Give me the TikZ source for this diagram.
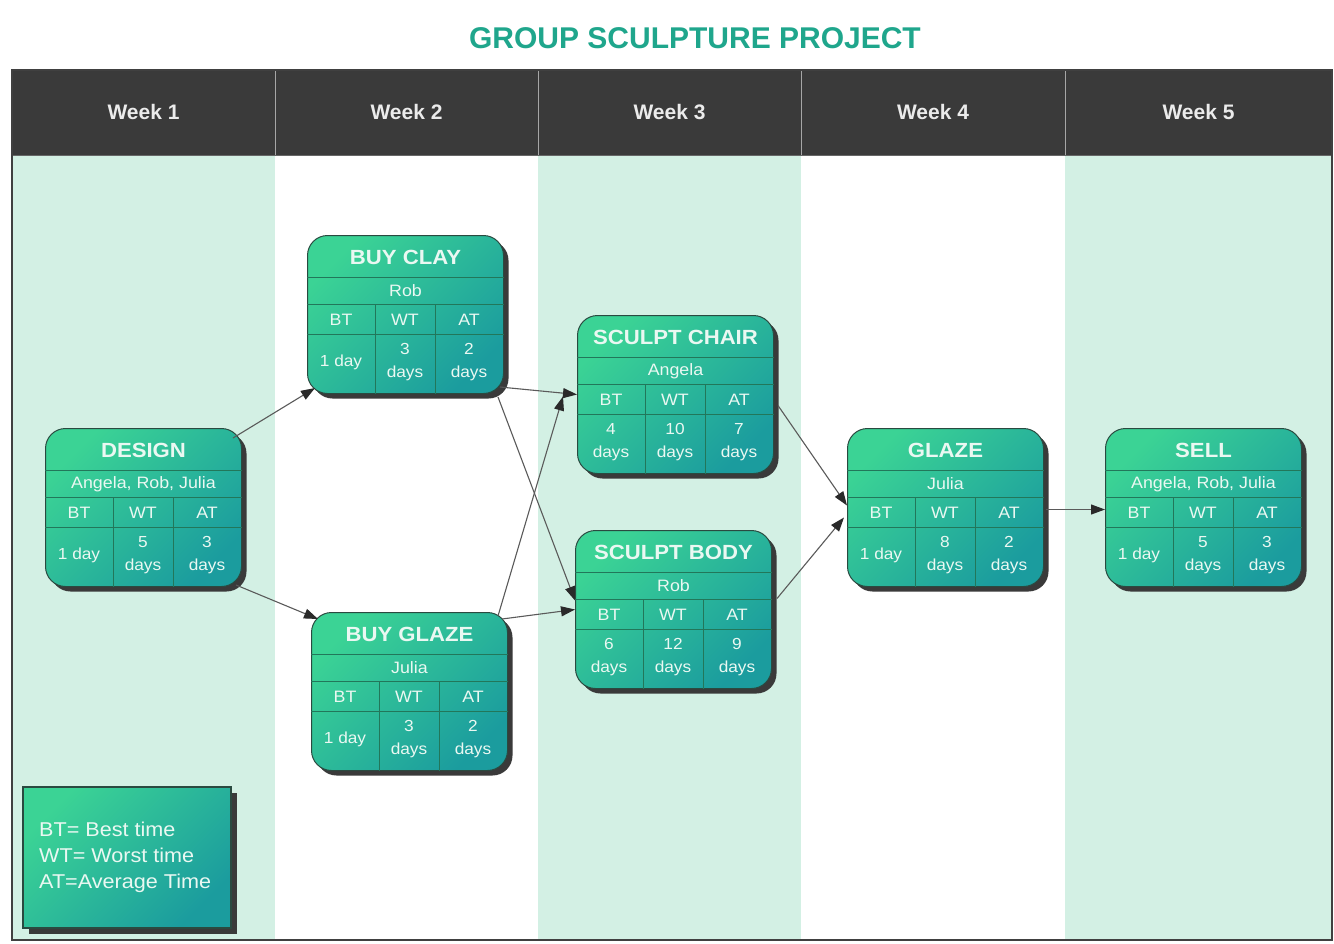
\documentclass[tikz,border=0pt]{standalone}
\usepackage{fontspec}
\setmainfont{Liberation Sans}
\newfontfamily\widefont[FakeStretch=1.08]{Liberation Sans}
\usetikzlibrary{calc,shadows,arrows.meta}
\definecolor{mint}{HTML}{D3F0E4}
\definecolor{headc}{HTML}{3A3A3A}
\definecolor{titlec}{HTML}{1FA68C}
\definecolor{taskA}{HTML}{3BD395}
\definecolor{taskB}{HTML}{1B9C9E}
\definecolor{taskline}{HTML}{2A4A40}
\definecolor{divc}{HTML}{22775A}
\definecolor{shadowc}{HTML}{3A3A3A}
\definecolor{txtc}{HTML}{EAF8F2}
\definecolor{arrowline}{HTML}{5A5A5A}
\definecolor{arrowhead}{HTML}{2A2A2A}
\tikzset{
  task/.style={draw=taskline, line width=1pt, rounded corners=20pt,
    minimum width=196pt, minimum height=158pt, inner sep=0pt,
    top color=taskA, bottom color=taskB, shading angle=45,
    drop shadow={shadow xshift=5pt, shadow yshift=-5pt, fill=shadowc, opacity=1}},
  legendbox/.style={draw=taskline, line width=1.5pt,
    minimum width=208pt, minimum height=141pt, inner sep=0pt,
    top color=taskA, bottom color=taskB, shading angle=45,
    drop shadow={shadow xshift=6pt, shadow yshift=-6pt, fill=shadowc, opacity=1}},
  divline/.style={draw=divc, line width=1pt},
  ttl/.style={text=txtc, font=\widefont\bfseries\fontsize{20.5}{24}\selectfont, inner sep=0pt},
  ppl/.style={text=txtc, font=\widefont\fontsize{16.5}{20}\selectfont, inner sep=0pt},
  hdr/.style={text=txtc, font=\widefont\fontsize{16.5}{20}\selectfont, inner sep=0pt},
  val/.style={text=txtc, font=\widefont\fontsize{16}{23}\selectfont, inner sep=0pt, align=center},
  weekl/.style={text=white!92!black, font=\bfseries\fontsize{21}{24}\selectfont, inner sep=0pt},
  link/.style={draw=arrowline, line width=1.1pt,
    -{Triangle[length=14pt,width=10pt,color=arrowhead]}},
}
\newcommand{\pertnode}[7]{%
  \node[task, anchor=north west] (#1) at (#2) {};
  \draw[divline] ($(#1.north west)+(0,42)$) -- ($(#1.north east)+(0,42)$);
  \draw[divline] ($(#1.north west)+(0,69)$) -- ($(#1.north east)+(0,69)$);
  \draw[divline] ($(#1.north west)+(0,99)$) -- ($(#1.north east)+(0,99)$);
  \draw[divline] ($(#1.north west)+(68,69)$) -- ($(#1.south west)+(68,0)$);
  \draw[divline] ($(#1.north west)+(128,69)$) -- ($(#1.south west)+(128,0)$);
  \node[ttl] (#1-t) at ($(#1.north)+(0,22)$) {#3};
  \node[ppl] (#1-p) at ($(#1.north)+(0,56)$) {#4};
  \node[hdr] (#1-bt) at ($(#1.north west)+(34,84.5)$) {BT};
  \node[hdr] (#1-wt) at ($(#1.north west)+(98,84.5)$) {WT};
  \node[hdr] (#1-at) at ($(#1.north west)+(162,84.5)$) {AT};
  \node[val] (#1-bv) at ($(#1.north west)+(34,127)$) {#5};
  \node[val] (#1-wv) at ($(#1.north west)+(98,127)$) {#6};
  \node[val] (#1-av) at ($(#1.north west)+(162,127)$) {#7};
}
\begin{document}
\begin{tikzpicture}[x=1pt,y=-1pt]
\useasboundingbox (0,0) rectangle (1334,943);
\fill[white] (0,0) rectangle (1334,943);
% title
\node[text=titlec, font=\bfseries\fontsize{30}{34}\selectfont, inner sep=0pt] (title) at (695,38) {GROUP SCULPTURE PROJECT};
% columns
\fill[mint] (12,155) rectangle (275,940);
\fill[white] (275,155) rectangle (538,940);
\fill[mint] (538,155) rectangle (801,940);
\fill[white] (801,155) rectangle (1065,940);
\fill[mint] (1065,155) rectangle (1332,940);
% header
\fill[headc] (12,70) rectangle (1332,155);
\foreach \xx in {275,538,801,1065} \draw[gray!70, line width=1pt] (\xx,70) -- (\xx,155);
\draw[black!60, line width=1pt] (12,155) -- (1332,155);
\draw[black!75, line width=2.5pt] (12,70) rectangle (1332,940);
\node[weekl] (w1) at (143.5,112) {Week 1};
\node[weekl] (w2) at (406.5,112) {Week 2};
\node[weekl] (w3) at (669.5,112) {Week 3};
\node[weekl] (w4) at (933,112) {Week 4};
\node[weekl] (w5) at (1198.5,112) {Week 5};
% tasks
\pertnode{design}{45,428}{DESIGN}{Angela, Rob, Julia}{1 day}{5\\days}{3\\days}
\pertnode{buyclay}{307,235}{BUY CLAY}{Rob}{1 day}{3\\days}{2\\days}
\pertnode{buyglaze}{311,612}{BUY GLAZE}{Julia}{1 day}{3\\days}{2\\days}
\pertnode{sculptchair}{577,315}{SCULPT CHAIR}{Angela}{4\\days}{10\\days}{7\\days}
\pertnode{sculptbody}{575,530}{SCULPT BODY}{Rob}{6\\days}{12\\days}{9\\days}
\pertnode{glaze}{847,428}{GLAZE}{Julia}{1 day}{8\\days}{2\\days}
\pertnode{sell}{1105,428}{SELL}{Angela, Rob, Julia}{1 day}{5\\days}{3\\days}
% connectors
\draw[link] ($(design.north east)+(-9,10)$) -- ($(buyclay.south west)+(8,-6)$);
\draw[link] ($(design.south east)+(-6,-2)$) -- ($(buyglaze.north west)+(7,7)$);
\draw[link] ($(buyclay.south east)+(-4,-7)$) -- (sculptchair.west);
\draw[link] ($(buyclay.south east)+(-6,3)$) -- ($(sculptbody.west)+(0,-9)$);
\draw[link] ($(buyglaze.north east)+(-10,4)$) -- ($(sculptchair.west)+(-14,2)$);
\draw[link] ($(buyglaze.north east)+(-6,7)$) -- (sculptbody.west);
\draw[link] ($(sculptchair.east)+(4,11)$) -- ($(glaze.west)+(0,-2)$);
\draw[link] ($(sculptbody.east)+(5,-11)$) -- ($(glaze.west)+(-3,10)$);
\draw[link] ($(glaze.east)+(2,2)$) -- ($(sell.west)+(0,2)$);
% legend
\node[legendbox, anchor=north west] (legend) at (22,786) {};
\node[anchor=west, text=txtc, font=\widefont\fontsize{20}{26}\selectfont, align=left, inner sep=0pt] (legtxt) at ($(legend.west)+(17,0)$) {BT= Best time\\WT= Worst time\\AT=Average Time};
\end{tikzpicture}
\end{document}
